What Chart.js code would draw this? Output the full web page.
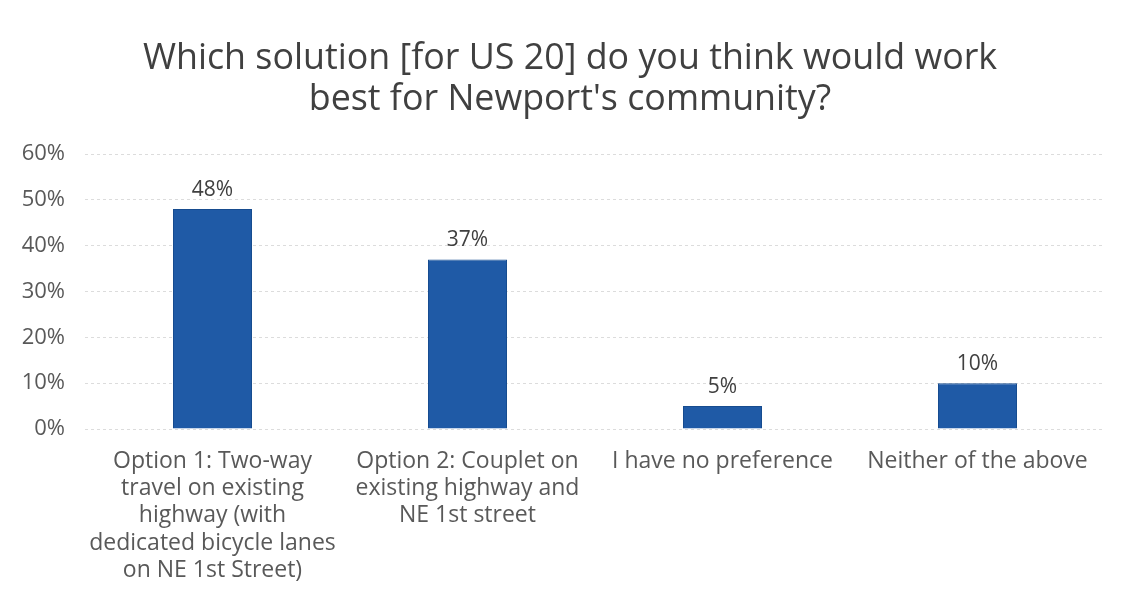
<!DOCTYPE html>
<html>
<head>
<meta charset="utf-8">
<script src="https://cdn.jsdelivr.net/npm/chart.js@4/dist/chart.umd.min.js"></script>
<style>
  html, body { margin: 0; padding: 0; background: #fff; }
  #wrap { width: 1125px; height: 596px; }
</style>
</head>
<body>
<div id="wrap"><canvas id="encuesta"></canvas></div>
<script>
const categorias = [
  ['Option 1: Two-way', 'travel on existing', 'highway (with', 'dedicated bicycle lanes', 'on NE 1st Street)'],
  ['Option 2: Couplet on', 'existing highway and', 'NE 1st street'],
  'I have no preference',
  'Neither of the above'
];
const porcentajes = [48, 37, 5, 10];
const ticksY = [0, 10, 20, 30, 40, 50, 60];

const fuente = "'Open Sans', 'DejaVu Sans', sans-serif";

// etiquetas de valor encima de cada barra
const etiquetasValor = {
  id: 'etiquetasValor',
  afterLayout(chart) {
    // el título va un poco corrido a la derecha
    chart.titleBlock.left += 17;
  },
  afterDatasetsDraw(chart) {
    const ctx = chart.ctx;
    const meta = chart.getDatasetMeta(0);
    ctx.save();
    ctx.font = '21px ' + fuente;
    ctx.fillStyle = '#404040';
    ctx.textAlign = 'center';
    ctx.textBaseline = 'bottom';
    meta.data.forEach((barra, i) => {
      ctx.fillText(porcentajes[i] + '%', barra.x, barra.y - 9);
    });
    ctx.restore();
  }
};

const grafica = new Chart(document.getElementById('encuesta'), {
  type: 'bar',
  data: {
    labels: categorias,
    datasets: [{
      data: porcentajes,
      backgroundColor: '#1f5aa6',
      borderColor: '#174c8f',
      borderWidth: 1,
      categoryPercentage: 1,
      barPercentage: 0.31
    }]
  },
  options: {
    responsive: true,
    maintainAspectRatio: false,
    animation: false,
    layout: { padding: { left: 18, right: 20, top: 8, bottom: 0 } },
    plugins: {
      legend: { display: false },
      tooltip: { enabled: false },
      title: {
        display: true,
        text: ['Which solution [for US 20] do you think would work', "best for Newport's community?"],
        color: '#404040',
        font: { family: fuente, size: 35.8, weight: 'normal', lineHeight: 1.16 },
        padding: { top: 30, bottom: 33 }
      }
    },
    scales: {
      y: {
        min: 0,
        max: 60,
        afterBuildTicks(eje) {
          eje.ticks = ticksY.map(v => ({ value: v }));
        },
        afterFit(eje) {
          eje.width = 67;
        },
        ticks: {
          callback: v => v + '%',
          color: '#595959',
          font: { family: fuente, size: 22 },
          padding: 20
        },
        grid: {
          color: '#dcdcdc',
          lineWidth: 1,
          drawTicks: false
        },
        border: { display: false, dash: [3, 3] }
      },
      x: {
        afterFit(eje) {
          eje.height = 167;
        },
        ticks: {
          color: '#595959',
          font: { family: fuente, size: 23, lineHeight: 1.18 },
          maxRotation: 0,
          autoSkip: false,
          padding: 19
        },
        grid: { display: false, drawTicks: false },
        border: { display: false }
      }
    }
  },
  plugins: [etiquetasValor]
});
</script>
</body>
</html>
